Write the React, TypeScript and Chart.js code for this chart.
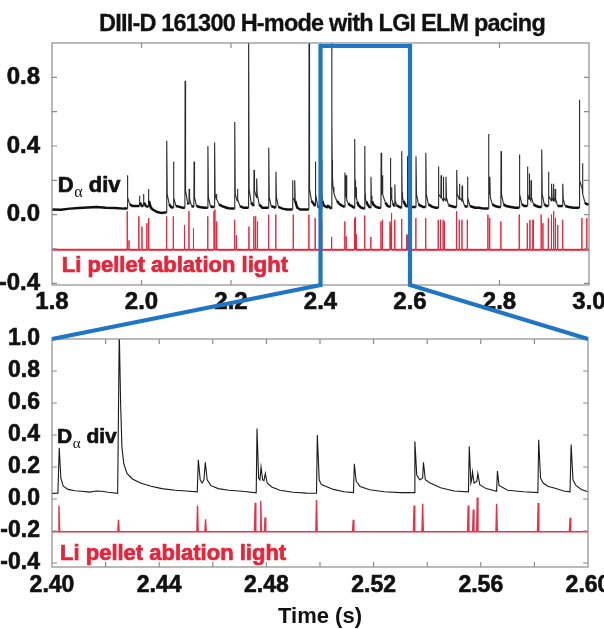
import React, { useEffect, useRef } from 'react';
import { Chart, registerables } from 'chart.js';

Chart.register(...registerables);

// ---------- axes ----------
const FULL_RANGE = [1.8, 3.0];
const ZOOM_RANGE = [2.4, 2.6];
const TOP_Y = [-0.41, 1.0];
const BOT_Y = [-0.425, 1.0];

const topXTicks = [1.8, 2.0, 2.2, 2.4, 2.6, 2.8, 3.0];
const topYTicks = [-0.4, -0.2, 0, 0.2, 0.4, 0.6, 0.8, 1.0];
const topYLabels = [-0.4, 0, 0.4, 0.8];
const botXTicks = [2.4, 2.42, 2.44, 2.46, 2.48, 2.5, 2.52, 2.54, 2.56, 2.58, 2.6];
const botXLabels = [2.4, 2.44, 2.48, 2.52, 2.56, 2.6];
const botYTicks = [-0.4, -0.2, 0, 0.2, 0.4, 0.6, 0.8, 1.0];

const TITLE = 'DIII-D 161300 H-mode with LGI ELM pacing';
const X_TITLE = 'Time (s)';
const DA_LABEL = ['D', 'α', ' div'];
const LI_LABEL = 'Li pellet ablation light';

// ---------- D-alpha (divertor) ----------
// quiet baseline readings [t, value] outside the spikes
const daQuiet = [
  [1.8, 0.03], [1.82, 0.028], [1.84, 0.035], [1.86, 0.038], [1.88, 0.042], [1.9, 0.045],
  [1.92, 0.04], [1.94, 0.038], [1.96, 0.035], [1.98, 0.05], [1.99, 0.05],
  [2.025, 0.03], [2.035, 0.015], [2.045, 0.01], [2.052, 0.012], [2.066, 0.045],
  [2.085, 0.045], [2.092, 0.04], [2.13, 0.045], [2.14, 0.04], [2.158, 0.045],
  [2.18, 0.05], [2.19, 0.04], [2.2, 0.035], [2.228, 0.04], [2.234, 0.04],
  [2.27, 0.04], [2.278, 0.04], [2.315, 0.035], [2.325, 0.03], [2.333, 0.03],
  [2.355, 0.03], [2.365, 0.03], [2.37, 0.03],
  [2.625, 0.05], [2.63, 0.045], [2.65, 0.045], [2.658, 0.04], [2.692, 0.05], [2.699, 0.045],
  [2.745, 0.04], [2.755, 0.04], [2.765, 0.035], [2.771, 0.035], [2.79, 0.05], [2.798, 0.045],
  [2.815, 0.05], [2.825, 0.045], [2.835, 0.04], [2.84, 0.04], [2.855, 0.05],
  [2.882, 0.05], [2.889, 0.045], [2.905, 0.05], [2.935, 0.05], [2.955, 0.045],
  [2.965, 0.04], [2.973, 0.04], [2.995, 0.06], [3.0, 0.06],
];

// ELM spikes outside the zoom window: [t, before, peak, just after, settled]
const daElms = [
  [1.968, 0.035, 0.23, 0.1, 0.06],
  [1.995, 0.05, 0.11, 0.07, 0.05],
  [2.004, 0.05, 0.12, 0.07, 0.05],
  [2.015, 0.045, 0.15, 0.08, 0.04],
  [2.056, 0.012, 0.43, 0.12, 0.06],
  [2.071, 0.04, 0.31, 0.1, 0.05],
  [2.097, 0.04, 0.78, 0.14, 0.07],
  [2.106, 0.06, 0.15, 0.09, 0.05],
  [2.117, 0.045, 0.31, 0.1, 0.05],
  [2.148, 0.04, 0.4, 0.1, 0.05],
  [2.163, 0.045, 0.42, 0.12],
  [2.167, 0.09, 0.12, 0.09, 0.06],
  [2.208, 0.035, 0.54, 0.12],
  [2.214, 0.08, 0.15, 0.09, 0.05],
  [2.239, 0.04, 1.05, 0.15, 0.07],
  [2.251, 0.05, 0.26, 0.14],
  [2.257, 0.1, 0.21, 0.12, 0.06],
  [2.284, 0.04, 0.39, 0.1, 0.05],
  [2.3, 0.04, 0.25, 0.1, 0.045],
  [2.337, 0.03, 0.2, 0.1],
  [2.342, 0.08, 0.2, 0.08, 0.04],
  [2.374, 0.03, 1.05, 0.15, 0.08],
  [2.388, 0.05, 0.31, 0.12, 0.05],
  [2.613, 0.045, 0.34, 0.12, 0.06],
  [2.635, 0.045, 0.36, 0.12, 0.06],
  [2.663, 0.04, 0.28, 0.12],
  [2.669, 0.1, 0.23, 0.1],
  [2.674, 0.08, 0.22, 0.1],
  [2.68, 0.08, 0.22, 0.1, 0.055],
  [2.704, 0.045, 0.26, 0.12],
  [2.71, 0.09, 0.18, 0.1],
  [2.716, 0.08, 0.17, 0.09, 0.05],
  [2.728, 0.045, 0.22, 0.1, 0.05],
  [2.775, 0.035, 0.47, 0.15],
  [2.778, 0.12, 0.22, 0.1, 0.06],
  [2.803, 0.045, 0.37, 0.12, 0.06],
  [2.844, 0.04, 0.35, 0.12, 0.06],
  [2.862, 0.05, 0.28, 0.12],
  [2.866, 0.09, 0.24, 0.1],
  [2.87, 0.08, 0.2, 0.1, 0.06],
  [2.894, 0.045, 0.38, 0.12, 0.06],
  [2.909, 0.05, 0.25, 0.11],
  [2.916, 0.08, 0.18, 0.1],
  [2.92, 0.08, 0.18, 0.1],
  [2.924, 0.08, 0.15, 0.09, 0.05],
  [2.941, 0.05, 0.18, 0.09, 0.05],
  [2.978, 0.04, 0.67, 0.2],
  [2.985, 0.15, 0.3, 0.12, 0.07],
];

// dense readings inside the zoom window [t, value]
const daZoom = [
  [2.4, 0.035], [2.4022, 0.036], [2.4027, 0.32], [2.4033, 0.13], [2.4042, 0.08], [2.406, 0.06],
  [2.4085, 0.052], [2.411, 0.048], [2.414, 0.043], [2.4165, 0.05], [2.4185, 0.048], [2.421, 0.042],
  [2.4245, 0.035], [2.4251, 1.05], [2.4256, 0.6], [2.4261, 0.32], [2.4268, 0.22], [2.428, 0.16],
  [2.43, 0.125], [2.433, 0.1], [2.437, 0.08], [2.441, 0.065], [2.446, 0.055], [2.45, 0.05],
  [2.4542, 0.045], [2.4546, 0.245], [2.4553, 0.12], [2.456, 0.1], [2.4567, 0.12], [2.4572, 0.23],
  [2.4579, 0.12], [2.4592, 0.085], [2.462, 0.065], [2.466, 0.055], [2.471, 0.048], [2.4762, 0.038],
  [2.4765, 0.44], [2.4771, 0.13], [2.4776, 0.12], [2.478, 0.2], [2.4786, 0.12], [2.4791, 0.115],
  [2.4796, 0.16], [2.4803, 0.1], [2.482, 0.075], [2.485, 0.055], [2.49, 0.042], [2.495, 0.037],
  [2.4987, 0.036], [2.499, 0.4], [2.4997, 0.12], [2.5005, 0.09], [2.5025, 0.077], [2.505, 0.06],
  [2.509, 0.045], [2.5125, 0.04], [2.5128, 0.22], [2.5135, 0.11], [2.515, 0.078], [2.5185, 0.058],
  [2.524, 0.045], [2.53, 0.04], [2.5351, 0.04], [2.5354, 0.36], [2.5361, 0.15], [2.5372, 0.12],
  [2.5383, 0.13], [2.5386, 0.23], [2.5393, 0.12], [2.5411, 0.1], [2.545, 0.07], [2.55, 0.05],
  [2.5554, 0.045], [2.5557, 0.33], [2.5563, 0.1], [2.5566, 0.12], [2.5569, 0.17], [2.5575, 0.1],
  [2.5585, 0.11], [2.5589, 0.16], [2.5596, 0.09], [2.562, 0.065], [2.5659, 0.048], [2.5662, 0.175],
  [2.5668, 0.085], [2.57, 0.055], [2.576, 0.045], [2.5813, 0.04], [2.5816, 0.37], [2.5823, 0.13],
  [2.5833, 0.1], [2.585, 0.08], [2.5877, 0.067], [2.591, 0.05], [2.5933, 0.045], [2.5937, 0.34],
  [2.5944, 0.12], [2.5955, 0.085], [2.5975, 0.06], [2.6, 0.045],
];

// ---------- Li pellet ablation light ----------
const liBase = -0.205;
// [t, peak]
const liSpikes = [
  [1.968, 0.02], [1.972, -0.15], [1.994, -0.01], [2.001, -0.07], [2.012, -0.05], [2.016, -0.02],
  [2.056, -0.01], [2.071, -0.01], [2.096, -0.06], [2.106, 0.02], [2.116, -0.08], [2.148, -0.01],
  [2.162, 0.02], [2.164, 0.03], [2.168, -0.04], [2.208, -0.03], [2.212, -0.12], [2.24, -0.07],
  [2.251, -0.01], [2.255, -0.01], [2.259, -0.04], [2.284, 0.0], [2.3, 0.0], [2.339, 0.0],
  [2.374, 0.0], [2.388, -0.02],
  [2.4026, -0.04], [2.4248, -0.13], [2.4543, -0.04], [2.4573, -0.127], [2.4758, -0.023],
  [2.4779, -0.013], [2.4795, -0.115], [2.4987, -0.006], [2.5124, -0.13], [2.5351, -0.04],
  [2.5383, -0.03], [2.5553, -0.04], [2.5572, -0.065], [2.5587, 0.01], [2.5659, -0.03],
  [2.5814, -0.025], [2.5933, -0.117],
  [2.613, -0.02], [2.635, -0.02], [2.663, -0.03], [2.668, -0.03], [2.674, -0.03], [2.677, -0.04],
  [2.704, 0.02], [2.71, -0.03], [2.716, -0.03], [2.728, -0.03], [2.774, 0.0], [2.778, -0.02],
  [2.803, -0.04], [2.844, 0.0], [2.862, -0.05], [2.868, -0.03], [2.875, -0.03], [2.893, 0.0],
  [2.897, -0.05], [2.909, -0.02], [2.916, 0.0], [2.921, 0.02], [2.925, -0.02], [2.93, -0.06],
  [2.941, -0.03], [2.984, -0.02], [2.995, -0.02],
];

// label anchors in data units [t, value]
const daLabelTop = [1.813, 0.133];
const liLabelTop = [1.822, -0.336];
const daLabelBot = [2.4019, 0.35];
const liLabelBot = [2.403, -0.381];

// ---------- styling ----------
const FONT = '"Liberation Sans", Arial, Helvetica, sans-serif';
const RED = '#e8243a';
const RED_BOT = '#e63249';
const BLUE = '#1f76c4';
const FRAME = '#8c8c8c';

function buildDalpha() {
  const pts: { x: number; y: number }[] = [];
  daQuiet.forEach(([t, v]) => pts.push({ x: t, y: v }));
  daElms.forEach((e) => {
    const [t, pre, peak, tail, settle] = e;
    pts.push({ x: t, y: pre }, { x: t + 0.0004, y: peak }, { x: t + 0.0015, y: tail });
    if (settle !== undefined) pts.push({ x: t + 0.006, y: settle });
  });
  daZoom.forEach(([t, v]) => pts.push({ x: t, y: v }));
  pts.sort((a, b) => a.x - b.x);
  return pts;
}

function buildLi() {
  const pts: { x: number; y: number }[] = [
    { x: FULL_RANGE[0], y: liBase },
    { x: FULL_RANGE[1], y: liBase },
  ];
  liSpikes.forEach(([t, p]) => {
    pts.push({ x: t - 0.00025, y: liBase }, { x: t, y: p }, { x: t + 0.00025, y: liBase });
  });
  pts.sort((a, b) => a.x - b.x);
  return pts;
}

const has = (arr: number[], v: number) => arr.some((a) => Math.abs(a - v) < 1e-6);

function boldText(ctx: any, text: string, x: number, y: number, color: string) {
  ctx.fillStyle = color;
  ctx.strokeStyle = color;
  ctx.lineWidth = 0.7;
  ctx.lineJoin = 'round';
  ctx.fillText(text, x, y);
  ctx.strokeText(text, x, y);
}

function drawDaLabel(ctx: any, x: number, y: number, size: number) {
  ctx.save();
  ctx.letterSpacing = '0px';
  ctx.textBaseline = 'alphabetic';
  ctx.textAlign = 'left';
  ctx.font = `bold ${size}px ${FONT}`;
  boldText(ctx, DA_LABEL[0], x, y, '#111');
  let w = ctx.measureText(DA_LABEL[0]).width;
  ctx.font = `${Math.round(size * 0.72)}px "Liberation Serif", "DejaVu Serif", serif`;
  ctx.fillStyle = '#111';
  ctx.fillText(DA_LABEL[1], x + w + 0.5, y + size * 0.22);
  w += ctx.measureText(DA_LABEL[1]).width + 0.5;
  ctx.font = `bold ${size}px ${FONT}`;
  boldText(ctx, DA_LABEL[2], x + w, y, '#111');
  ctx.restore();
}

function decoPlugin(cfg: any) {
  return {
    id: 'deco',
    beforeDraw(chart: any) {
      chart.ctx.letterSpacing = cfg.spacing || '0px';
    },
    afterDatasetsDraw(chart: any) {
      const { ctx, scales } = chart;
      const xs = scales.x;
      const ys = scales.y;
      drawDaLabel(ctx, xs.getPixelForValue(cfg.da[0]), ys.getPixelForValue(cfg.da[1]), cfg.daSize);
      ctx.save();
      ctx.letterSpacing = '0px';
      ctx.font = `bold ${cfg.liSize}px ${FONT}`;
      ctx.textBaseline = 'alphabetic';
      ctx.textAlign = 'left';
      boldText(ctx, LI_LABEL, xs.getPixelForValue(cfg.li[0]), ys.getPixelForValue(cfg.li[1]), RED);
      ctx.restore();
    },
    afterDraw(chart: any) {
      const { ctx, chartArea: a, scales } = chart;
      ctx.save();
      ctx.strokeStyle = FRAME;
      ctx.lineWidth = 1.2;
      ctx.strokeRect(a.left, a.top, a.right - a.left, a.bottom - a.top);
      const L = 5;
      ctx.beginPath();
      scales.x.ticks.forEach((t: any) => {
        const p = scales.x.getPixelForValue(t.value);
        if (p <= a.left + 1 || p >= a.right - 1) return;
        ctx.moveTo(p, a.bottom);
        ctx.lineTo(p, a.bottom - L);
        ctx.moveTo(p, a.top);
        ctx.lineTo(p, a.top + L);
      });
      scales.y.ticks.forEach((t: any) => {
        const p = scales.y.getPixelForValue(t.value);
        if (p <= a.top + 1 || p >= a.bottom - 1) return;
        ctx.moveTo(a.left, p);
        ctx.lineTo(a.left + L, p);
        ctx.moveTo(a.right, p);
        ctx.lineTo(a.right - L, p);
      });
      ctx.stroke();
      ctx.restore();
    },
  };
}

const TOP_H = 312;
const BOT_H = 317;

const noPad = (s: any) => {
  s.paddingLeft = 0;
  s.paddingRight = 0;
  s.paddingTop = 0;
  s.paddingBottom = 0;
};

const tickFont = (size: number) => ({ family: FONT, size, weight: 'bold', lineHeight: 1 });

function topConfig(): any {
  const da = buildDalpha();
  const li = buildLi();
  return {
    type: 'line',
    data: {
      datasets: [
        {
          data: da,
          borderColor: '#111',
          borderWidth: 1,
          pointRadius: 0,
          tension: 0,
          segment: {
            borderWidth: (c: any) => (Math.max(c.p0.parsed.y, c.p1.parsed.y) < 0.085 ? 2.5 : 1.1),
            borderColor: (c: any) => (Math.max(c.p0.parsed.y, c.p1.parsed.y) < 0.085 ? '#111' : '#2a2a2a'),
          },
        },
        {
          data: li,
          borderColor: RED,
          borderWidth: 1,
          pointRadius: 0,
          tension: 0,
          segment: {
            borderWidth: (c: any) => (Math.max(c.p0.parsed.y, c.p1.parsed.y) < liBase + 0.005 ? 2 : 1),
          },
        },
      ],
    },
    options: {
      animation: false,
      responsive: false,
      devicePixelRatio: 1,
      events: [],
      layout: { padding: { left: 0, top: 43, right: 15, bottom: 0 } },
      plugins: { legend: { display: false }, tooltip: { enabled: false }, title: { display: false } },
      scales: {
        x: {
          type: 'linear',
          min: FULL_RANGE[0],
          max: FULL_RANGE[1],
          grid: { display: false },
          border: { display: false },
          afterBuildTicks: (s: any) => {
            s.ticks = topXTicks.map((v) => ({ value: v }));
          },
          afterFit: (s: any) => {
            s.height = TOP_H - 285;
            noPad(s);
          },
          ticks: {
            autoSkip: false,
            maxRotation: 0,
            minRotation: 0,
            padding: -3,
            color: '#111',
            textStrokeColor: '#111',
            textStrokeWidth: 0.6,
            font: tickFont(24),
            callback: (v: number) => v.toFixed(1),
          },
        },
        y: {
          min: TOP_Y[0],
          max: TOP_Y[1],
          grid: { display: false },
          border: { display: false },
          afterBuildTicks: (s: any) => {
            s.ticks = topYTicks.map((v) => ({ value: v }));
          },
          afterFit: (s: any) => {
            s.width = 52;
            noPad(s);
          },
          ticks: {
            autoSkip: false,
            padding: 4,
            color: '#111',
            textStrokeColor: '#111',
            textStrokeWidth: 0.6,
            font: tickFont(24),
            callback: (v: number) => (has(topYLabels, v) ? v.toFixed(1) : ''),
          },
        },
      },
    },
    plugins: [decoPlugin({ da: daLabelTop, li: liLabelTop, daSize: 22, liSize: 22 })],
  };
}

function botConfig(): any {
  const da = buildDalpha();
  const li = buildLi();
  return {
    type: 'line',
    data: {
      datasets: [
        { data: da, borderColor: '#1a1a1a', borderWidth: 1.1, pointRadius: 0, tension: 0 },
        { data: li, borderColor: RED_BOT, borderWidth: 1.4, pointRadius: 0, tension: 0 },
      ],
    },
    options: {
      animation: false,
      responsive: false,
      devicePixelRatio: 1,
      events: [],
      layout: { padding: { left: 0, top: 27, right: 16, bottom: 0 } },
      plugins: { legend: { display: false }, tooltip: { enabled: false }, title: { display: false } },
      scales: {
        x: {
          type: 'linear',
          min: ZOOM_RANGE[0],
          max: ZOOM_RANGE[1],
          grid: { display: false },
          border: { display: false },
          afterBuildTicks: (s: any) => {
            s.ticks = botXTicks.map((v) => ({ value: v }));
          },
          afterFit: (s: any) => {
            s.height = BOT_H - 255;
            noPad(s);
          },
          title: {
            display: true,
            text: X_TITLE,
            color: '#111',
            font: tickFont(22),
            padding: { top: 0, bottom: 1 },
          },
          ticks: {
            autoSkip: false,
            maxRotation: 0,
            minRotation: 0,
            padding: -1,
            color: '#111',
            textStrokeColor: '#111',
            textStrokeWidth: 0.6,
            font: tickFont(23),
            callback: (v: number) => (has(botXLabels, v) ? v.toFixed(2) : ''),
          },
        },
        y: {
          min: BOT_Y[0],
          max: BOT_Y[1],
          grid: { display: false },
          border: { display: false },
          afterBuildTicks: (s: any) => {
            s.ticks = botYTicks.map((v) => ({ value: v }));
          },
          afterFit: (s: any) => {
            s.width = 52;
            noPad(s);
          },
          ticks: {
            autoSkip: false,
            padding: 4,
            color: '#111',
            textStrokeColor: '#111',
            textStrokeWidth: 0.6,
            font: tickFont(23),
            callback: (v: number) => v.toFixed(1),
          },
        },
      },
    },
    plugins: [decoPlugin({ da: daLabelBot, li: liLabelBot, daSize: 21, liSize: 22 })],
  };
}

export default function App() {
  const topRef = useRef<HTMLCanvasElement>(null);
  const botRef = useRef<HTMLCanvasElement>(null);
  const ovRef = useRef<HTMLCanvasElement>(null);

  useEffect(() => {
    const top = new Chart(topRef.current as HTMLCanvasElement, topConfig());
    const bot = new Chart(botRef.current as HTMLCanvasElement, botConfig());

    const ov = ovRef.current as HTMLCanvasElement;
    const ctx = ov.getContext('2d') as CanvasRenderingContext2D;
    ctx.clearRect(0, 0, ov.width, ov.height);
    const ta = top.chartArea;
    const ba = bot.chartArea;
    const x0 = (top.scales as any).x.getPixelForValue(ZOOM_RANGE[0]);
    const x1 = (top.scales as any).x.getPixelForValue(ZOOM_RANGE[1]);
    const boxTop = ta.top + 3;
    ctx.strokeStyle = BLUE;
    ctx.lineWidth = 4.2;
    ctx.lineJoin = 'miter';
    ctx.beginPath();
    ctx.moveTo(ba.left, TOP_H + ba.top);
    ctx.lineTo(x0, ta.bottom);
    ctx.lineTo(x0, boxTop);
    ctx.lineTo(x1, boxTop);
    ctx.lineTo(x1, ta.bottom);
    ctx.lineTo(ba.right, TOP_H + ba.top);
    ctx.stroke();

    return () => {
      top.destroy();
      bot.destroy();
    };
  }, []);

  return (
    <div style={{ position: 'absolute', left: 0, top: 0, width: 604, height: 629, background: '#fff', overflow: 'hidden' }}>
      <canvas ref={topRef} width={604} height={TOP_H} style={{ position: 'absolute', left: 0, top: 0 }} />
      <canvas ref={botRef} width={604} height={BOT_H} style={{ position: 'absolute', left: 0, top: TOP_H }} />
      <canvas ref={ovRef} width={604} height={629} style={{ position: 'absolute', left: 0, top: 0, pointerEvents: 'none' }} />
      <div
        style={{
          position: 'absolute',
          left: 0,
          top: 12,
          width: 644,
          textAlign: 'center',
          fontFamily: FONT,
          fontWeight: 'bold',
          fontSize: 23.5,
          lineHeight: '23.5px',
          letterSpacing: '-0.8px',
          color: '#111',
          whiteSpace: 'nowrap',
          WebkitTextStroke: '0.3px #111',
        }}
      >
        {TITLE}
      </div>
    </div>
  );
}
